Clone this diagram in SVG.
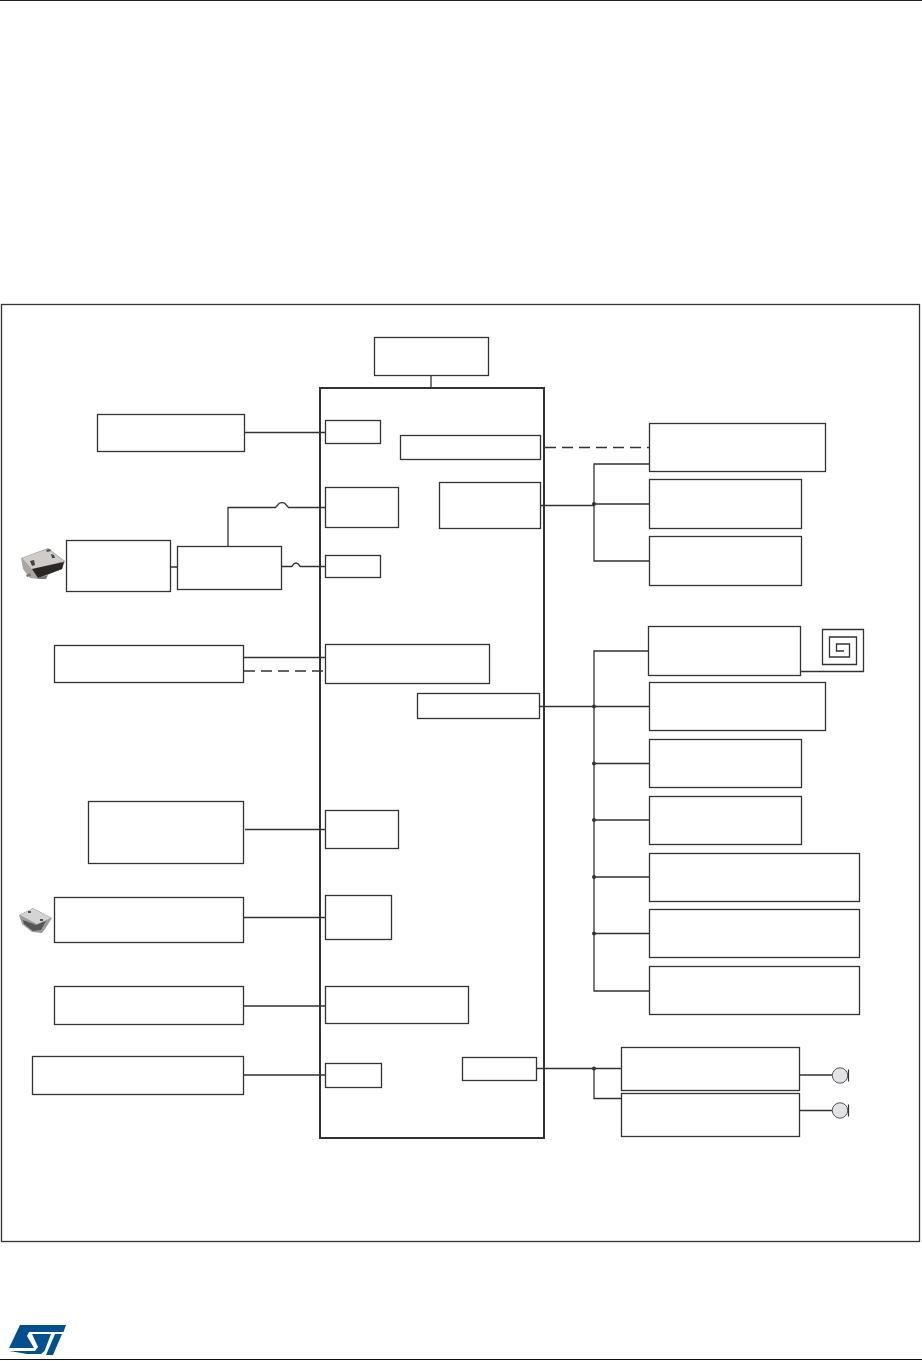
<svg xmlns="http://www.w3.org/2000/svg" width="922" height="1361" viewBox="0 0 922 1361">
<style>
.b{fill:#fff;stroke:#333;stroke-width:1.300}
.c{fill:none;stroke:#333;stroke-width:1.300}
.d{fill:none;stroke:#333;stroke-width:1.300;stroke-dasharray:11 6}
.j{fill:#333}
.p{fill:#e3e3e5;stroke:#555;stroke-width:1}
</style>
<defs><filter id="soft" x="-10%" y="-10%" width="120%" height="120%"><feGaussianBlur stdDeviation="0.6"/></filter></defs>
<rect width="922" height="1361" fill="#fff"/>
<g id="page-rules"><line x1="0" y1="0.5" x2="922" y2="0.5" stroke="#222" stroke-width="1"/><line x1="0" y1="1359.500" x2="922" y2="1359.500" stroke="#111" stroke-width="1.200"/></g>
<rect id="frame" x="1.500" y="304.500" width="918" height="937" fill="none" stroke="#333" stroke-width="1.300"/>
<g id="connectors">
<path class="c" d="M431 376V388M245 432.500H326M171 567H178M228 547V507.500H276M288 507.500H326M282 566.500H292M300 566.500H326M244 657.500H326M245 829.500H326M244 917.500H326M244 1006H326M244 1075H326"/>
<path class="c" d="M276 507.500a2 2 0 0 1 1.500-2a5 5 0 0 1 9 0a2 2 0 0 1 1.500 2M292 566.500c1-1 1-3.500 4-3.500s3 2.500 4 3.500"/>
<path class="d" d="M244 671H326M545 447.500H650"/>
<path class="c" d="M541 505.500H594V504H650M650 464H594V561H650"/>
<path class="c" d="M540 706.500H650M649 651H594V991H650M594 763.500H650M594 820H650M594 877H650M594 933.500H650"/>
<path class="c" d="M537 1068.500H622M594 1068.500V1098.500H622M799 1075H832M799 1110.500H832"/>
<path class="c" d="M801 671.500H863.500V629.500H822.500V664.500H856.500V637H829.500V657H849.500V644H836.500V651H844"/>
<g class="j"><circle cx="594" cy="504" r="2"/><circle cx="594" cy="706.500" r="2"/><circle cx="594" cy="763.500" r="2"/><circle cx="594" cy="820" r="2"/><circle cx="594" cy="877" r="2"/><circle cx="594" cy="933.500" r="2"/><circle cx="594" cy="1068.500" r="2"/></g>
</g>
<rect id="mcu" x="320" y="388" width="224" height="750" fill="none" stroke="#333" stroke-width="2"/>
<g id="left-nodes">
<g id="n-top"><rect class="b" x="374.500" y="337.500" width="114" height="38"/></g>
<g id="n-l1"><rect class="b" x="97.500" y="414.500" width="147" height="37"/></g>
<g id="n-l2a"><rect class="b" x="66.500" y="540.500" width="104" height="51"/></g>
<g id="n-l2b"><rect class="b" x="177.500" y="546.500" width="104" height="43"/></g>
<g id="n-l3"><rect class="b" x="54.500" y="645.500" width="189" height="37"/></g>
<g id="n-l4"><rect class="b" x="88.500" y="801.500" width="155" height="62"/></g>
<g id="n-l5"><rect class="b" x="54.500" y="897.500" width="189" height="45"/></g>
<g id="n-l6"><rect class="b" x="54.500" y="986.500" width="189" height="38"/></g>
<g id="n-l7"><rect class="b" x="32.500" y="1056.500" width="211" height="38"/></g>
</g>
<g id="mcu-nodes">
<g id="m1"><rect class="b" x="325.500" y="420.500" width="55" height="23"/></g>
<g id="m2"><rect class="b" x="400.500" y="435.500" width="140" height="24"/></g>
<g id="m3"><rect class="b" x="325.500" y="487.500" width="73" height="40"/></g>
<g id="m4"><rect class="b" x="439.500" y="482.500" width="101" height="46"/></g>
<g id="m5"><rect class="b" x="325.500" y="555.500" width="55" height="22"/></g>
<g id="m6"><rect class="b" x="325.500" y="644.500" width="164" height="39"/></g>
<g id="m7"><rect class="b" x="417.500" y="693.500" width="122" height="25"/></g>
<g id="m8"><rect class="b" x="325.500" y="810.500" width="73" height="38"/></g>
<g id="m9"><rect class="b" x="325.500" y="895.500" width="66" height="44"/></g>
<g id="m10"><rect class="b" x="325.500" y="986.500" width="143" height="37"/></g>
<g id="m11"><rect class="b" x="325.500" y="1063.500" width="56" height="24"/></g>
<g id="m12"><rect class="b" x="462.500" y="1057.500" width="74" height="23"/></g>
</g>
<g id="right-nodes">
<g id="r1"><rect class="b" x="649.500" y="423.500" width="176" height="48"/></g>
<g id="r2"><rect class="b" x="649.500" y="479.500" width="152" height="49"/></g>
<g id="r3"><rect class="b" x="649.500" y="536.500" width="152" height="49"/></g>
<g id="r4"><rect class="b" x="648.500" y="626.500" width="152" height="49"/></g>
<g id="r5"><rect class="b" x="649.500" y="682.500" width="176" height="48"/></g>
<g id="r6"><rect class="b" x="649.500" y="739.500" width="152" height="48"/></g>
<g id="r7"><rect class="b" x="649.500" y="796.500" width="152" height="48"/></g>
<g id="r8"><rect class="b" x="649.500" y="853.500" width="210" height="48"/></g>
<g id="r9"><rect class="b" x="649.500" y="909.500" width="210" height="48"/></g>
<g id="r10"><rect class="b" x="649.500" y="966.500" width="210" height="48"/></g>
<g id="r11"><rect class="b" x="621.500" y="1047.500" width="178" height="43"/></g>
<g id="r12"><rect class="b" x="621.500" y="1093.500" width="178" height="43"/></g>
</g>
<g id="pads">
<g id="pad1"><circle class="p" cx="840" cy="1075.500" r="7.700"/><path d="M848.500 1069.500V1081.500" stroke="#333" stroke-width="1.200"/></g>
<g id="pad2"><circle class="p" cx="840" cy="1110.500" r="7.700"/><path d="M848.500 1104.500V1116.500" stroke="#333" stroke-width="1.200"/></g>
</g>
<g id="usb-top" filter="url(#soft)">
<path d="M21 558L48 548L65 561L62 569L38 579L30 578L23 569Z" fill="#a9a5a2"/>
<path d="M22 558L48 549L64 561L32 569Z" fill="#cfccca"/>
<path d="M32 569L64 562L62 569L38 578Z" fill="#2b2827"/>
<path d="M26 575L30 573L31 576L27 577ZM38 578L48 575L46 579L39 579Z" fill="#777"/>
<path d="M30 561L34 560L35 565L32 566Z" fill="#444"/><path d="M51 554L54 555L55 558L52 558Z" fill="#444"/><path d="M46 550L50 549L51 551L47 552Z" fill="#555"/>
</g>
<g id="usb-bottom" filter="url(#soft)">
<path d="M19 915L33 908L52 918L45 929L42 933L32 932L22 924Z" fill="#9c9c9c"/>
<path d="M20 915L33 908.500L51 918L37 924Z" fill="#d4d4d4"/>
<path d="M23 920L36 925L46 921L41 930L33 931L24 924Z" fill="#555"/>
<path d="M28 911L31 911L31 913L28 913ZM40 919L43 919L43 921L40 921Z" fill="#555"/>
</g>
<g id="st-logo" fill="#03508f">
<path d="M20 1325H66L63.500 1332H29L27 1336L34 1348H9Z"/>
<path d="M32 1334H51L44.500 1351L41 1354H27L9.500 1351H35L38 1347Z"/>
<path d="M55 1334H62L53 1355H46Z"/>
</g>
</svg>
